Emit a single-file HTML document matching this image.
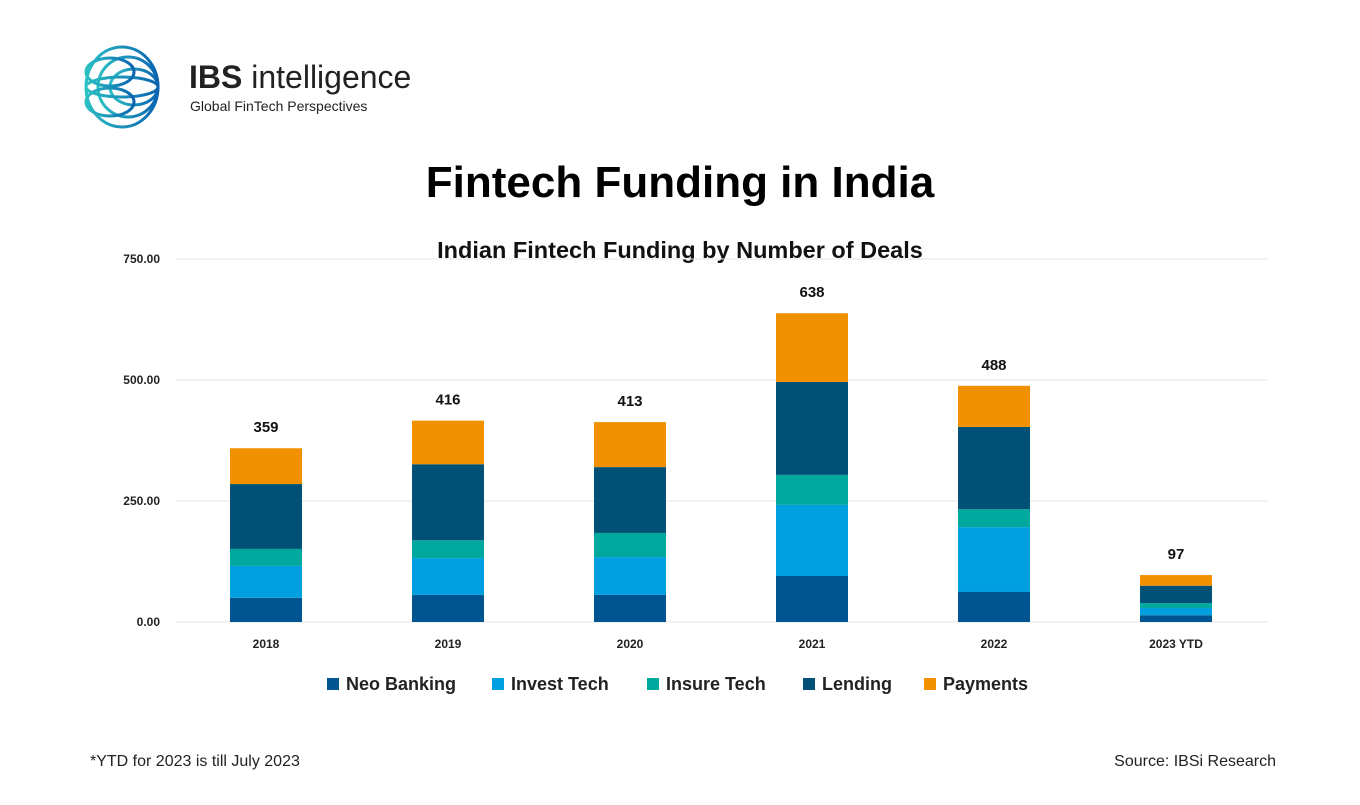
<!DOCTYPE html>
<html><head><meta charset="utf-8"><style>
body{margin:0;width:1360px;height:800px;background:#fff;font-family:"Liberation Sans",sans-serif;overflow:hidden}
</style></head><body>
<svg width="1360" height="800" xmlns="http://www.w3.org/2000/svg">
<defs><linearGradient id="lg" x1="0" x2="1"><stop offset="0" stop-color="#2bc0c4"/><stop offset="1" stop-color="#0a63b0"/></linearGradient></defs>
<g fill="none" stroke="url(#lg)" stroke-width="3">
<ellipse cx="122" cy="87" rx="36" ry="40"/>
<ellipse cx="128" cy="87" rx="30" ry="30"/>
<ellipse cx="134" cy="87" rx="24" ry="18"/>
<ellipse cx="122" cy="87" rx="36" ry="10"/>
<ellipse cx="110" cy="72" rx="24" ry="14"/>
<ellipse cx="110" cy="102" rx="24" ry="14"/>
</g>
<text x="189" y="88" font-size="32" fill="#222"><tspan font-weight="bold">IBS</tspan> intelligence</text>
<text x="190" y="111" font-size="14" fill="#222">Global FinTech Perspectives</text>
<text x="680" y="197" font-size="44" font-weight="bold" text-anchor="middle" fill="#000">Fintech Funding in India</text>
<text x="680" y="258" font-size="23.5" font-weight="bold" text-anchor="middle" fill="#111">Indian Fintech Funding by Number of Deals</text>
<g id="plot"></g>
<g id="legend"></g>
<text x="90" y="766" font-size="16" fill="#222">*YTD for 2023 is till July 2023</text>
<text x="1276" y="766" font-size="16" fill="#222" text-anchor="end">Source: IBSi Research</text>
</svg>
<script>
const categories=["2018","2019","2020","2021","2022","2023 YTD"];
const seriesNames=["Neo Banking","Invest Tech","Insure Tech","Lending","Payments"];
const neoBanking=[50,56,56,95,62,14];
const investTech=[66,76,78,147,134,15];
const insureTech=[35,37,50,62,37,10];
const lending=[134,157,136,192,170,36];
const payments=[74,90,93,142,85,22];
const totals=[359,416,413,638,488,97];
const yTicks=[0,250,500,750];
const colors=["#00548f","#00a0e0","#00a89d","#005175","#f29100"];
const series=[neoBanking,investTech,insureTech,lending,payments];
const NS="http://www.w3.org/2000/svg";
const y=v=>622-v*0.484;
const x=i=>266+i*182;
const plot=document.getElementById('plot');
function mk(t,a,p){const e=document.createElementNS(NS,t);for(const k in a)e.setAttribute(k,a[k]);p.appendChild(e);return e;}
yTicks.forEach(t=>{
 const l=mk('line',{x1:175,x2:1268,y1:y(t),y2:y(t),stroke:'#e4e4e4','stroke-width':1},plot);
 
 
 const tx=mk('text',{x:160,y:y(t)+4,'font-size':12,'font-weight':'bold','text-anchor':'end',fill:'#222'},plot);
 tx.textContent=t.toFixed(2);
 
 
});
categories.forEach((c,i)=>{
 let cum=0;
 series.forEach((s,j)=>{
  const r=mk('rect',{x:x(i)-36,width:72,y:y(cum+s[i]),height:s[i]*0.484,fill:colors[j]},plot);
  
  
  cum+=s[i];
 });
 const tl=mk('text',{x:x(i),y:y(totals[i])-16,'font-size':15,'font-weight':'bold','text-anchor':'middle',fill:'#111'},plot);
 tl.textContent=totals[i];
 
 
 const xl=mk('text',{x:x(i),y:648,'font-size':12,'font-weight':'bold','text-anchor':'middle',fill:'#222'},plot);
 xl.textContent=c;
 
 
});
const lg=document.getElementById('legend');
const lx=[327,492,647,803,924];
seriesNames.forEach((n,j)=>{
 const g=mk('g',{},lg);
 
 
 mk('rect',{x:lx[j],y:678,width:12,height:12,fill:colors[j]},g);
 const t=mk('text',{x:lx[j]+19,y:690,'font-size':18,'font-weight':'bold',fill:'#222'},g);
 t.textContent=n;
});
</script>
</body></html>
